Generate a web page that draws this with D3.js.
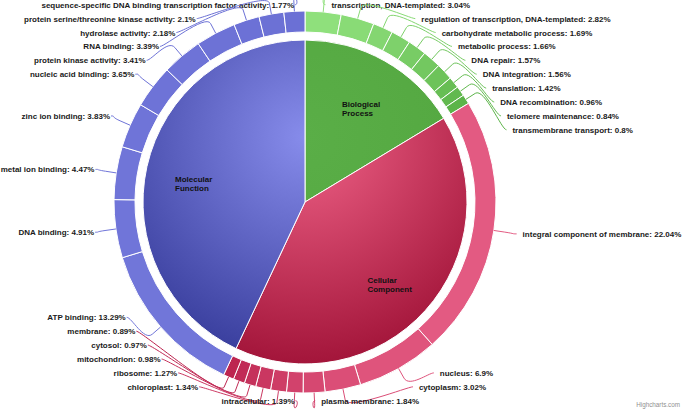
<!DOCTYPE html>
<html><head><meta charset="utf-8">
<script src="https://cdn.jsdelivr.net/npm/d3@7"></script>
<style>
body{margin:0;background:#fff;}
svg{display:block;font-family:"Liberation Sans",Arial,sans-serif;}
</style>
</head><body>
<svg id="chart" width="685" height="410"></svg>
<script>
// ---- data ----
const categories = ["Biological Process", "Cellular Component", "Molecular Function"];
const bpTerms = ["transcription, DNA-templated", "regulation of transcription, DNA-templated", "carbohydrate metabolic process", "metabolic process", "DNA repair", "DNA integration", "translation", "DNA recombination", "telomere maintenance", "transmembrane transport"];
const bpValues = [3.04, 2.82, 1.69, 1.66, 1.57, 1.56, 1.42, 0.96, 0.84, 0.8];
const ccTerms = ["integral component of membrane", "nucleus", "cytoplasm", "plasma membrane", "intracellular", "chloroplast", "ribosome", "mitochondrion", "cytosol", "membrane"];
const ccValues = [22.04, 6.9, 3.02, 1.84, 1.39, 1.34, 1.27, 0.98, 0.97, 0.89];
const mfTerms = ["ATP binding", "DNA binding", "metal ion binding", "zinc ion binding", "nucleic acid binding", "protein kinase activity", "RNA binding", "hydrolase activity", "protein serine/threonine kinase activity", "sequence-specific DNA binding transcription factor activity"];
const mfValues = [13.29, 4.91, 4.47, 3.83, 3.65, 3.41, 3.39, 2.18, 2.1, 1.77];

// ---- styles ----
const innerStops = [["#5aae47", "#52a63f"], ["#f06388", "#a3153a"], ["#878ceb", "#393e9d"]];
const ringRange = [["#8fe07c", "#5cb449"], ["#e35a82", "#bd2550"], ["#7176d9", "#6b70d5"]];

const W = 685, H = 410;
const cx = 305, cy = 202;
const rInner = 162, ringIn = 170, ringOut = 191;
const labelR = 214;
const yMin = 4.7, yMax = 400.7, spacing = 13.9;

const svg = d3.select("#chart");
const g = svg.append("g").attr("transform", `translate(${cx},${cy})`);

const groups = [
  {terms: bpTerms, values: bpValues},
  {terms: ccTerms, values: ccValues},
  {terms: mfTerms, values: mfValues}
];
const innerData = categories.map((c, i) => ({name: c, value: d3.sum(groups[i].values), ci: i}));
const outerData = [];
groups.forEach((grp, ci) => grp.terms.forEach((t, j) => {
  const col = d3.interpolateRgb(ringRange[ci][0], ringRange[ci][1])(grp.terms.length > 1 ? j / (grp.terms.length - 1) : 0);
  outerData.push({name: t, value: grp.values[j], ci, color: col});
}));

const pie = d3.pie().sort(null).value(d => d.value);
const innerArcs = pie(innerData);
const outerArcs = pie(outerData);

// gradients
const defs = svg.append("defs");
innerStops.forEach((st, i) => {
  const gr = defs.append("radialGradient").attr("id", "grad" + i)
    .attr("gradientUnits", "userSpaceOnUse")
    .attr("cx", cx).attr("cy", cy - rInner + 0.3 * 2 * rInner).attr("r", 0.7 * 2 * rInner);
  gr.append("stop").attr("offset", 0).attr("stop-color", st[0]);
  gr.append("stop").attr("offset", 1).attr("stop-color", st[1]);
});

const arcInner = d3.arc().innerRadius(0).outerRadius(rInner);
const arcRing = d3.arc().innerRadius(ringIn).outerRadius(ringOut);

g.selectAll("path.inner").data(innerArcs).join("path").attr("class", "inner")
  .attr("d", arcInner)
  .attr("transform", `translate(${-cx},${-cy})`)
  .attr("transform", null)
  .attr("fill", d => `url(#grad${d.data.ci})`)
  .attr("stroke", "#fff").attr("stroke-width", 1);

// gradient is userSpace relative to svg; move paths group coordinates: use a separate group without translate
g.selectAll("path.inner").remove();
const gAbs = svg.append("g");
gAbs.selectAll("path.inner").data(innerArcs).join("path").attr("class", "inner")
  .attr("d", d => arcInner(d))
  .attr("transform", `translate(${cx},${cy})`)
  .attr("fill", d => `url(#grad${d.data.ci})`)
  .attr("stroke", "#fff").attr("stroke-width", 1);
// fix gradient coordinates relative to the translated path
defs.selectAll("radialGradient").attr("cx", 0).attr("cy", -rInner + 0.3 * 2 * rInner);

g.selectAll("path.ring").data(outerArcs).join("path").attr("class", "ring")
  .attr("d", arcRing)
  .attr("fill", d => d.data.color)
  .attr("stroke", "#fff").attr("stroke-width", 1);

// inner labels
const innerLbl = svg.append("g");
innerArcs.forEach(d => {
  const a = (d.startAngle + d.endAngle) / 2;
  const px = cx + Math.sin(a) * (rInner - 48);
  const py = cy - Math.cos(a) * (rInner - 48);
  const words = d.data.name.split(" ");
  const t = innerLbl.append("text").attr("font-size", 8).attr("font-weight", "bold").attr("fill", "#111");
  const spans = words.map((w, k) => t.append("tspan").attr("y", py + 4.5 + k * 9).text(w));
  const maxW = d3.max(spans, s => s.node().getComputedTextLength());
  spans.forEach(s => s.attr("x", px - maxW / 2));
});

// outer labels
const items = outerArcs.map(d => {
  const a = (d.startAngle + d.endAngle) / 2;
  return {d, a, side: a < Math.PI ? 1 : -1, natY: cy - Math.cos(a) * labelR};
});
const lblG = svg.append("g");
[1, -1].forEach(side => {
  const list = items.filter(o => o.side === side).sort((p, q) => p.natY - q.natY);
  let prev = yMin - spacing;
  list.forEach(o => { o.y = Math.max(o.natY, prev + spacing); prev = o.y; });
  let next = yMax + spacing;
  for (let i = list.length - 1; i >= 0; i--) { list[i].y = Math.min(list[i].y, next - spacing); next = list[i].y; }
  list.forEach((o, i) => {
    const yx = (i === 0 || i === list.length - 1) ? o.natY : o.y;
    const dy = Math.max(-labelR, Math.min(labelR, yx - cy));
    const circleX = cx + side * Math.sqrt(labelR * labelR - dy * dy);
    const col = o.d.data.color;
    const bx = cx + Math.sin(o.a) * ringOut, by = cy - Math.cos(o.a) * ringOut;
    const b2x = cx + Math.sin(o.a) * (ringOut + 11), b2y = cy - Math.cos(o.a) * (ringOut + 11);
    const sx = side > 0 ? circleX : circleX + 2;
    const path = `M${sx},${o.y}C${sx - 5 * side},${o.y} ${2 * b2x - bx},${2 * b2y - by} ${b2x},${b2y}L${bx},${by}`;
    lblG.append("path").attr("d", path).attr("fill", "none").attr("stroke", col).attr("stroke-width", 1);
    lblG.append("text")
      .attr("x", side > 0 ? circleX + 6 : circleX + 1)
      .attr("y", o.y + 3)
      .attr("text-anchor", side > 0 ? "start" : "end")
      .attr("font-size", 8).attr("font-weight", "bold").attr("fill", "#1a1a1a")
      .text(`${o.d.data.name}: ${o.d.data.value}%`);
  });
});

svg.append("text").attr("x", 680).attr("y", 407).attr("text-anchor", "end")
  .attr("font-size", 6.3).attr("fill", "#909090").text("Highcharts.com");
</script>
</body></html>
